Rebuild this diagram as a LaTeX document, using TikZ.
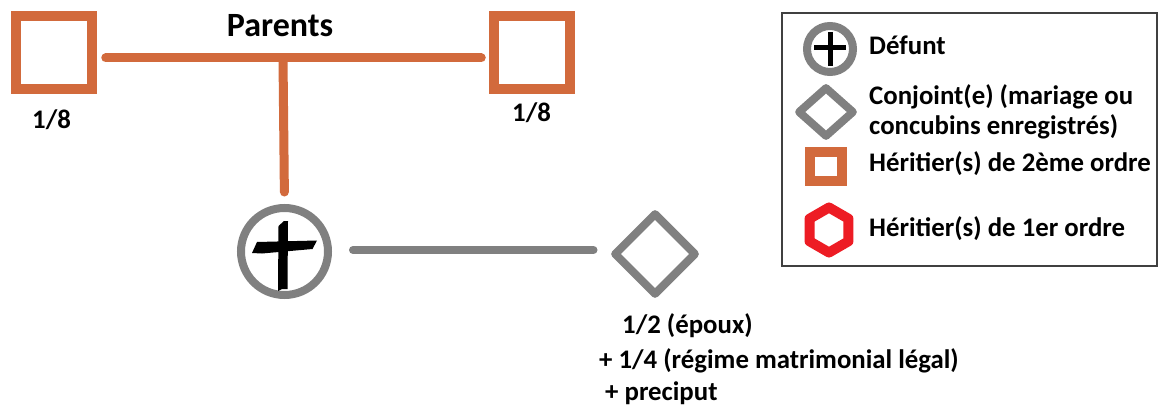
\documentclass[tikz,border=0pt]{standalone}
\usepackage{fontspec}
\setmainfont{Carlito}
\usetikzlibrary{shapes.geometric}
\definecolor{orng}{RGB}{210,106,60}
\definecolor{gry}{RGB}{128,128,128}
\definecolor{hred}{RGB}{237,28,36}
\tikzset{
  lbl/.style={font=\bfseries\fontsize{26.8}{30}\selectfont, inner sep=0, anchor=base west},
  parentbox/.style={draw=orng, line width=9.5pt, minimum width=76pt, minimum height=73pt, inner sep=0},
  orangeline/.style={draw=orng, line width=9pt, line cap=round},
  grayline/.style={draw=gry, line width=8pt, line cap=round},
  deceased/.style={circle, draw=gry, line width=8pt, minimum size=87pt, inner sep=0},
  spouse/.style={diamond, draw=gry, line width=8pt, inner sep=0, line join=round},
  crossbar/.style={draw=black, line cap=butt},
}
\begin{document}
\begin{tikzpicture}[x=1pt,y=-1pt]
\useasboundingbox[fill=white] (0,0) rectangle (1161,406);

% parents
\node[parentbox] (p1) at (54,52.5) {};
\node[parentbox] (p2) at (532,52.5) {};
\node[font=\bfseries\fontsize{34}{40}\selectfont, inner sep=0, anchor=base] (par) at (280,37) {Parents};
\node[lbl] (f1) at (32,129) {1/8};
\node[lbl] (f2) at (512,122) {1/8};
\coordinate (j) at (283,58);

% deceased and spouse
\node[deceased] (def) at (284.5,251.5) {};
\node[spouse, minimum width=83pt, minimum height=83pt] (sp) at (655,254) {};

\draw[orangeline, shorten <=9pt, shorten >=8pt] (p1.east |- j) -- (p2.west |- j);
\draw[orangeline, shorten >=12pt] (j) -- (def.north);
\draw[grayline, shorten <=21pt, shorten >=16pt] (def.east |- 0,250) -- (sp.west |- 0,250);

% cross in deceased
\fill[black] (278.5,226) -- (284,221) -- (288,221) -- (287.5,289) -- (282,289) -- (278,291) -- cycle;
\fill[black] (252,253) -- (257,242) -- (317,240.5) -- (312.5,249) -- (262,253.5) -- cycle;

\node[lbl] (s1) at (622,333) {1/2 (époux)};
\node[lbl] (s2) at (599,368) {+ 1/4 (régime matrimonial légal)};
\node[lbl] (s3) at (605,400) {+ preciput};

% legend
\node[draw=black!75, line width=2pt, minimum width=375pt, minimum height=253pt, inner sep=0] (leg) at (969.5,139.5) {};
\node[circle, draw=gry, line width=8pt, minimum size=46pt, inner sep=0] (ld) at (830,49) {};
\draw[crossbar, line width=5pt] ([yshift=17pt]ld.center) -- ([yshift=-17pt]ld.center);
\draw[crossbar, line width=5pt] ([xshift=-16pt,yshift=1pt]ld.center) -- ([xshift=16pt,yshift=1pt]ld.center);
\node[spouse, line width=8pt, minimum width=57pt, minimum height=51pt] (ls) at (826,112) {};
\node[draw=orng, line width=10pt, minimum width=32pt, minimum height=29pt, inner sep=0] (lh2) at (826,167) {};
\node[regular polygon, regular polygon sides=6, shape border rotate=30, draw=hred, line width=10pt, minimum size=45pt, inner sep=0, line join=round] (lh1) at (829,230) {};

\node[lbl] (l1) at (869,55) {Défunt};
\node[lbl] (l2a) at (869,105) {Conjoint(e) (mariage ou};
\node[lbl] (l2b) at (869,135) {concubins enregistrés)};
\node[lbl] (l3) at (869,172) {Héritier(s) de 2ème ordre};
\node[lbl] (l4) at (869,236) {Héritier(s) de 1er ordre};
\end{tikzpicture}
\end{document}
